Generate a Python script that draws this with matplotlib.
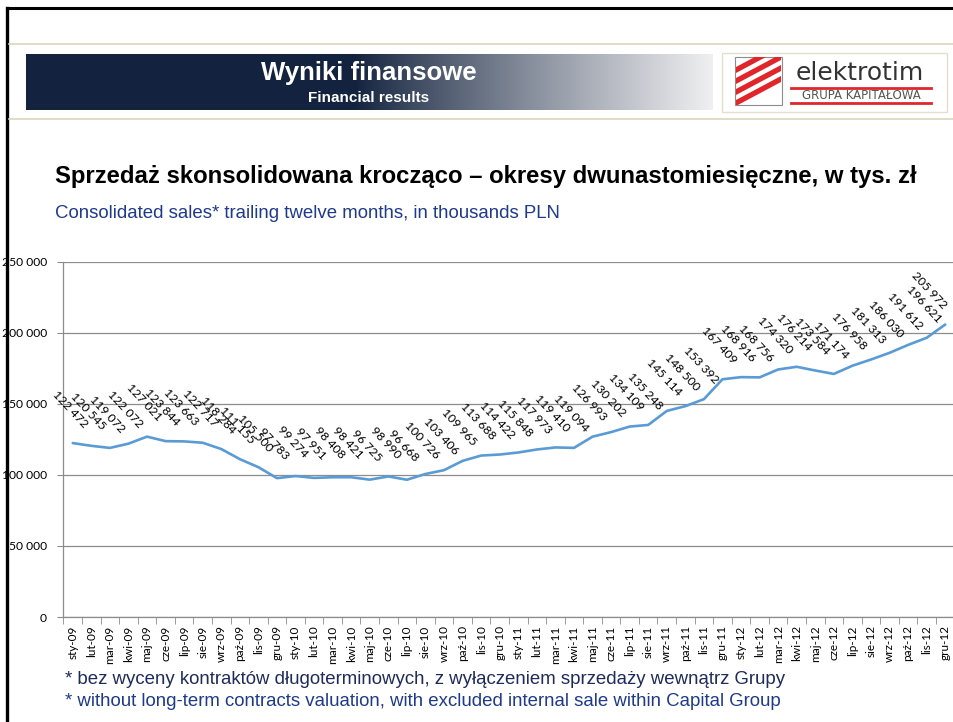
import matplotlib
matplotlib.use("Agg")
import matplotlib.pyplot as plt
import numpy as np
from matplotlib.patches import Rectangle, Polygon
from matplotlib.lines import Line2D

# ---------------- data ----------------
months = ["sty", "lut", "mar", "kwi", "maj", "cze", "lip", "sie", "wrz", "paź", "lis", "gru"]
years = ["09", "10", "11", "12"]
categories = [f"{m}-{y}" for y in years for m in months]

sales = [122472, 120545, 119072, 122072, 127021, 123844, 123663, 122717, 118284, 111155, 105500, 97783,
         99274, 97951, 98408, 98421, 96725, 98990, 96668, 100726, 103406, 109965, 113688, 114422,
         115848, 117973, 119410, 119094, 126993, 130202, 134109, 135248, 145114, 148500, 153392, 167409,
         168916, 168756, 174320, 176214, 173584, 171174, 176958, 181313, 186030, 191612, 196621, 205972]

yticks = [0, 50000, 100000, 150000, 200000, 250000]

title_pl = "Sprzedaż skonsolidowana krocząco – okresy dwunastomiesięczne, w tys. zł"
title_en = "Consolidated sales* trailing twelve months, in thousands PLN"
note_pl = "* bez wyceny kontraktów długoterminowych, z wyłączeniem sprzedaży wewnątrz Grupy"
note_en = "* without long-term contracts valuation, with excluded internal sale within Capital Group"


def fmt(v):
    return f"{v:,}".replace(",", " ")


W, H = 954, 722
fig = plt.figure(figsize=(W / 100, H / 100), dpi=100)
fig.patch.set_facecolor("white")

# ---------------- background / decorations ----------------
bg = fig.add_axes([0, 0, 1, 1], zorder=0)
bg.set_xlim(0, W)
bg.set_ylim(H, 0)
bg.axis("off")

# black frame (top and left)
bg.add_line(Line2D([7.5, W], [7.5, 7.5], color="black", lw=2.2))
bg.add_line(Line2D([7.5, 7.5], [7.5, H], color="black", lw=2.4))
# tan separator lines
bg.add_line(Line2D([9, W], [43.5, 43.5], color="#DAD6BC", lw=1.2))
bg.add_line(Line2D([9, W], [118.5, 118.5], color="#DAD6BC", lw=1.2))

# banner gradient
n = 400
t = np.linspace(0, 1, n)
dark = np.array([0.075, 0.135, 0.245])
light = np.array([0.94, 0.94, 0.945])
s = np.clip((t - 0.48) / 0.52, 0, 1)
s = s ** 0.9
grad = dark[None, :] * (1 - s[:, None]) + light[None, :] * s[:, None]
bg.imshow(grad[None, :, :], extent=(26, 713, 110, 54), aspect="auto", zorder=1)
bg.text(369, 73, "Wyniki finansowe", color="white", fontsize=18.5, fontweight="bold",
        family="Liberation Sans", ha="center", va="center", zorder=2)
bg.text(369, 98, "Financial results", color="white", fontsize=11, fontweight="bold",
        family="Liberation Sans", ha="center", va="center", zorder=2)

# logo box
bg.add_patch(Rectangle((722.5, 52.5), 225, 59, facecolor="white", edgecolor="#E2DFCF", lw=1.0, zorder=1))
icon = Rectangle((735, 57), 47, 48, facecolor="white", edgecolor="#8C8C8C", lw=0.8, zorder=2)
bg.add_patch(icon)
for k in range(4):
    y0 = 106 - k * 11
    poly = [(736, y0), (736, y0 - 6), (781, y0 - 30), (781, y0 - 24)]
    p = Polygon(poly, closed=True, facecolor="#E0262A", edgecolor="none", zorder=3)
    bg.add_patch(p)
    p.set_clip_path(icon)
bg.text(860, 80, "elektrotim", color="#333333", fontsize=18, family="DejaVu Sans",
        ha="center", va="baseline", zorder=3)
bg.add_line(Line2D([791, 931], [87.5, 87.5], color="#E0262A", lw=2.0, zorder=3))
bg.add_line(Line2D([791, 931], [103, 103], color="#E0262A", lw=2.0, zorder=3))
bg.text(861, 95.5, "GRUPA KAPITAŁOWA", color="#555555", fontsize=8.5, family="DejaVu Sans",
        ha="center", va="center", zorder=3)

# titles
bg.text(55, 176, title_pl, color="black", fontsize=17.2, fontweight="bold",
        family="Liberation Sans", ha="left", va="center")
bg.text(55, 213, title_en, color="#1F3A8C", fontsize=13.4, family="Liberation Sans",
        ha="left", va="center")
# footnotes
bg.text(65, 679, note_pl, color="#1F2B5C", fontsize=13.4, family="Liberation Sans",
        ha="left", va="center")
bg.text(65, 701, note_en, color="#1F3A8C", fontsize=13.4, family="Liberation Sans",
        ha="left", va="center")

# ---------------- chart ----------------
left_px, right_px = 63.5, 954.5
top_px, bottom_px = 262, 617
ax = fig.add_axes([left_px / W, 1 - bottom_px / H, (right_px - left_px) / W, (bottom_px - top_px) / H],
                  zorder=2)
ax.patch.set_alpha(0)

x = np.arange(len(categories))
ax.plot(x, sales, color="#5B9BD5", lw=1.9, solid_capstyle="round", zorder=3)

ax.set_xlim(-0.5, len(categories) - 0.5)
ax.set_ylim(yticks[0], yticks[-1])

ax.set_yticks(yticks)
ax.set_yticklabels([fmt(v) for v in yticks], fontsize=8.7, family="Lato")
ax.yaxis.grid(True, color="#8C8C8C", lw=0.9)
ax.set_axisbelow(True)
ax.tick_params(axis="y", length=4, color="#8C8C8C", pad=8, labelcolor="black")

ax.set_xticks(x)
ax.set_xticklabels(categories, rotation=90, fontsize=8.5, family="Lato")
ax.set_xticks(np.arange(-0.5, len(categories), 1), minor=True)
ax.tick_params(axis="x", which="major", length=0, pad=6, labelcolor="black")
ax.tick_params(axis="x", which="minor", length=5, color="#8C8C8C")

for sp in ["top", "right"]:
    ax.spines[sp].set_visible(False)
ax.spines["left"].set_color("#8C8C8C")
ax.spines["bottom"].set_color("#8C8C8C")
ax.spines["left"].set_linewidth(0.9)
ax.spines["bottom"].set_linewidth(0.9)

px2pt = 0.72
for i, v in enumerate(sales):
    dx = -3 if i < len(sales) - 1 else -16
    ax.annotate(fmt(v), (i, v), xytext=(dx * px2pt, 34 * px2pt), textcoords="offset points",
                rotation=-47, ha="center", va="center", fontsize=8.8, family="Lato",
                color="black", annotation_clip=False, zorder=4)

fig.savefig("out.png", dpi=100)
